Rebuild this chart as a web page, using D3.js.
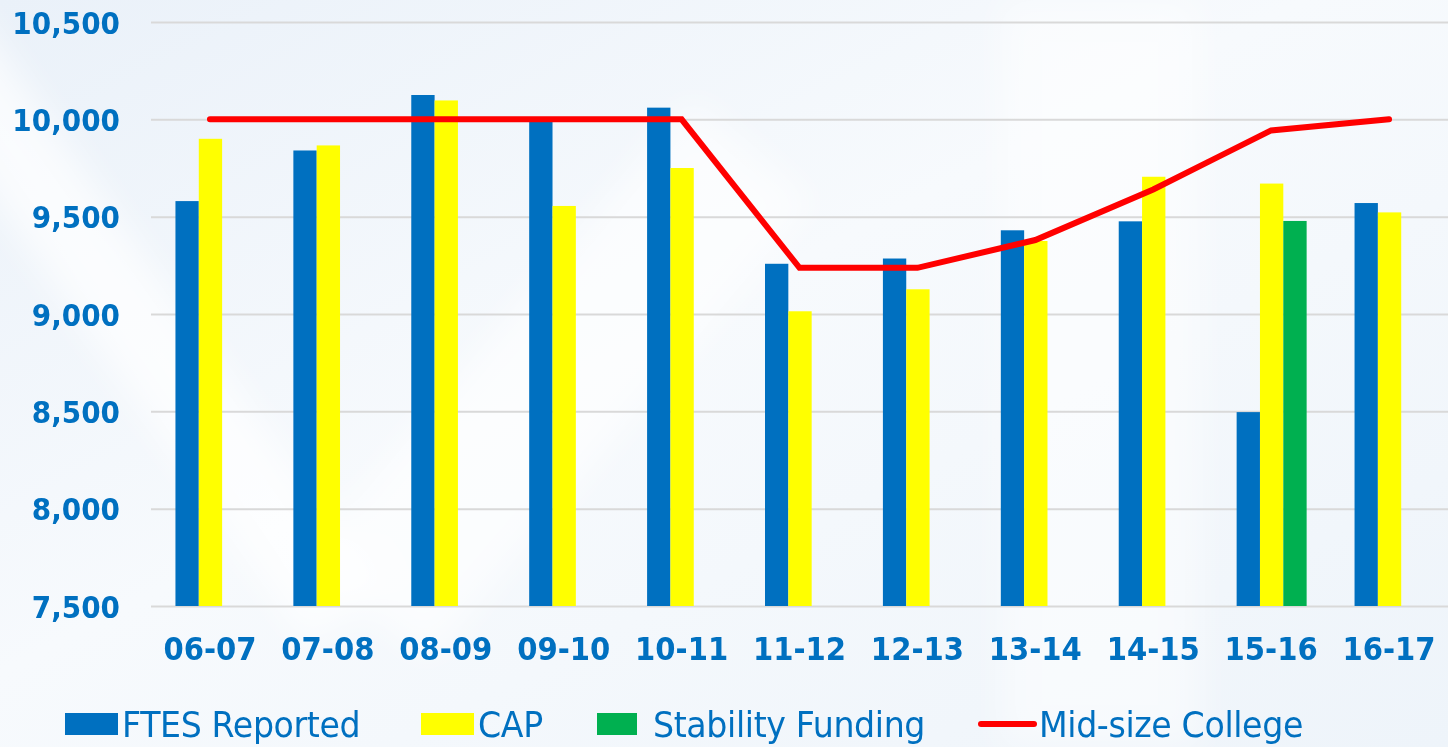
<!DOCTYPE html>
<html>
<head>
<meta charset="utf-8">
<script src="https://cdn.jsdelivr.net/npm/d3@7"></script>
<style>
  html, body { margin: 0; padding: 0; background: #fff; }
  svg { display: block; }
</style>
</head>
<body>
<svg id="chart" width="1448" height="747"></svg>
<script>
// data
var years = ["06-07", "07-08", "08-09", "09-10", "10-11", "11-12", "12-13", "13-14", "14-15", "15-16", "16-17"];
var ftes = [9580, 9840, 10125, 9995, 10060, 9258, 9285, 9430, 9476, 8496, 9570];
var cap = [9900, 9866, 10097, 9555, 9750, 9014, 9127, 9375, 9705, 9670, 9522];
var stability = [null, null, null, null, null, null, null, null, null, 9478, null];
var midsize = [10000, 10000, 10000, 10000, 10000, 9237, 9237, 9380, 9640, 9943, 10000];
var yTicks = [7500, 8000, 8500, 9000, 9500, 10000, 10500];
var seriesNames = ["FTES Reported", "CAP", "Stability Funding"];
var lineName = "Mid-size College";

var colors = {
  "FTES Reported": "#0070c0",
  "CAP": "#ffff00",
  "Stability Funding": "#00b050",
  "Mid-size College": "#ff0000"
};
var textBlue = "#0070c0";

var svg = d3.select("#chart"),
  width = +svg.attr("width"),
  height = +svg.attr("height"),
  plotLeft = 151,
  plotTop = 22,
  plotBottom = 606;

// background
var defs = svg.append("defs");
var bg = defs.append("linearGradient").attr("id", "bg")
  .attr("x1", "0%").attr("y1", "0%").attr("x2", "100%").attr("y2", "100%");
bg.append("stop").attr("offset", "0%").attr("stop-color", "#eaf1f9");
bg.append("stop").attr("offset", "45%").attr("stop-color", "#f7fafd");
bg.append("stop").attr("offset", "100%").attr("stop-color", "#eef4fa");
defs.append("filter").attr("id", "blur")
  .append("feGaussianBlur").attr("stdDeviation", 18);

svg.append("rect").attr("width", width).attr("height", height).attr("fill", "url(#bg)");
var streaks = svg.append("g").attr("filter", "url(#blur)");
streaks.append("rect").attr("x", 40).attr("y", -200).attr("width", 90).attr("height", 900)
  .attr("transform", "rotate(-35,85,250)").attr("fill", "#ffffff").attr("opacity", 0.7);
streaks.append("rect").attr("x", 480).attr("y", 80).attr("width", 160).attr("height", 600)
  .attr("transform", "rotate(40,560,380)").attr("fill", "#ffffff").attr("opacity", 0.6);
streaks.append("rect").attr("x", 1000).attr("y", 0).attr("width", 200).attr("height", 747)
  .attr("fill", "#ffffff").attr("opacity", 0.5);

var x0 = d3.scaleBand().domain(years).range([plotLeft, width]).padding(0);
var x1 = d3.scaleBand().domain(seriesNames)
  .range([x0.bandwidth() / 2 - 34.5, x0.bandwidth() / 2 + 35.5]);
var y = d3.scaleLinear().domain([7500, 10500]).range([plotBottom, plotTop]);

// gridlines + y labels
var sy = 0.9;
var yAxis = svg.append("g")
  .attr("transform", "translate(" + plotLeft + ",0)")
  .call(d3.axisLeft(y).tickValues(yTicks).tickSize(-(width - plotLeft)).tickPadding(0)
    .tickFormat(d3.format(",")));
yAxis.select(".domain").remove();
yAxis.selectAll(".tick line").attr("stroke", "#d9d9d9").attr("stroke-width", 2);
yAxis.selectAll(".tick text")
  .attr("fill", textBlue)
  .attr("font-family", "DejaVu Sans, Verdana, sans-serif")
  .attr("font-weight", "bold")
  .attr("font-size", 31)
  .attr("x", -31 / sy)
  .attr("dy", "0.36em")
  .attr("transform", "scale(" + sy + ",1)");

// bars
var data = years.map(function(d, i) {
  return { year: d, values: [ftes[i], cap[i], stability[i]] };
});

var groups = svg.selectAll(".grp")
  .data(data)
  .enter()
  .append("g")
  .attr("class", "grp")
  .attr("transform", function(d) { return "translate(" + x0(d.year) + ",0)"; });

groups.selectAll("rect")
  .data(function(d) {
    return seriesNames.map(function(s, j) { return { key: s, value: d.values[j] }; })
      .filter(function(v) { return v.value != null; });
  })
  .enter()
  .append("rect")
  .attr("x", function(d) { return x1(d.key); })
  .attr("y", function(d) { return y(d.value); })
  .attr("width", x1.bandwidth())
  .attr("height", function(d) { return y(7500) - y(d.value); })
  .attr("fill", function(d) { return colors[d.key]; });

// line
var line = d3.line()
  .x(function(d, i) { return x0(years[i]) + x0.bandwidth() / 2; })
  .y(function(d) { return y(d); });

svg.append("path")
  .datum(midsize)
  .attr("d", line)
  .attr("fill", "none")
  .attr("stroke", colors[lineName])
  .attr("stroke-width", 6)
  .attr("stroke-linecap", "round")
  .attr("stroke-linejoin", "miter");

// x labels
var sx = 0.91;
var xAxis = svg.append("g")
  .attr("transform", "translate(0," + plotBottom + ")")
  .call(d3.axisBottom(x0).tickSize(0).tickPadding(0));
xAxis.select(".domain").remove();
xAxis.selectAll(".tick text")
  .attr("fill", textBlue)
  .attr("font-family", "DejaVu Sans, Verdana, sans-serif")
  .attr("font-weight", "bold")
  .attr("font-size", 32)
  .attr("y", 54)
  .attr("dy", 0)
  .attr("transform", "scale(" + sx + ",1)")
  .attr("x", 0);

// legend
var legendItems = [
  { name: "FTES Reported", x: 65, kind: "rect" },
  { name: "CAP", x: 421, kind: "rect" },
  { name: "Stability Funding", x: 597, kind: "rect" },
  { name: "Mid-size College", x: 981, kind: "line" }
];
var ly = 724, ls = 0.95;
var legend = svg.append("g");
legendItems.forEach(function(it) {
  var g = legend.append("g").attr("transform", "translate(" + it.x + "," + ly + ")");
  if (it.kind === "rect") {
    g.append("rect").attr("x", 0).attr("y", -11).attr("width", it.name === "Stability Funding" ? 40 : 53)
      .attr("height", 22).attr("fill", colors[it.name]);
  } else {
    g.append("line").attr("x1", 0).attr("x2", 53).attr("y1", 0).attr("y2", 0)
      .attr("stroke", colors[it.name]).attr("stroke-width", 6).attr("stroke-linecap", "round");
  }
  var tx = it.name === "Stability Funding" ? 56 : (it.kind === "line" ? 58 : 57);
  g.append("text")
    .attr("transform", "translate(" + tx + ",0) scale(" + ls + ",1)")
    .attr("dy", "0.36em")
    .attr("fill", textBlue)
    .attr("font-family", "DejaVu Sans, Verdana, sans-serif")
    .attr("font-size", 35)
    .attr("letter-spacing", -0.4)
    .text(it.name);
});
</script>
</body>
</html>
